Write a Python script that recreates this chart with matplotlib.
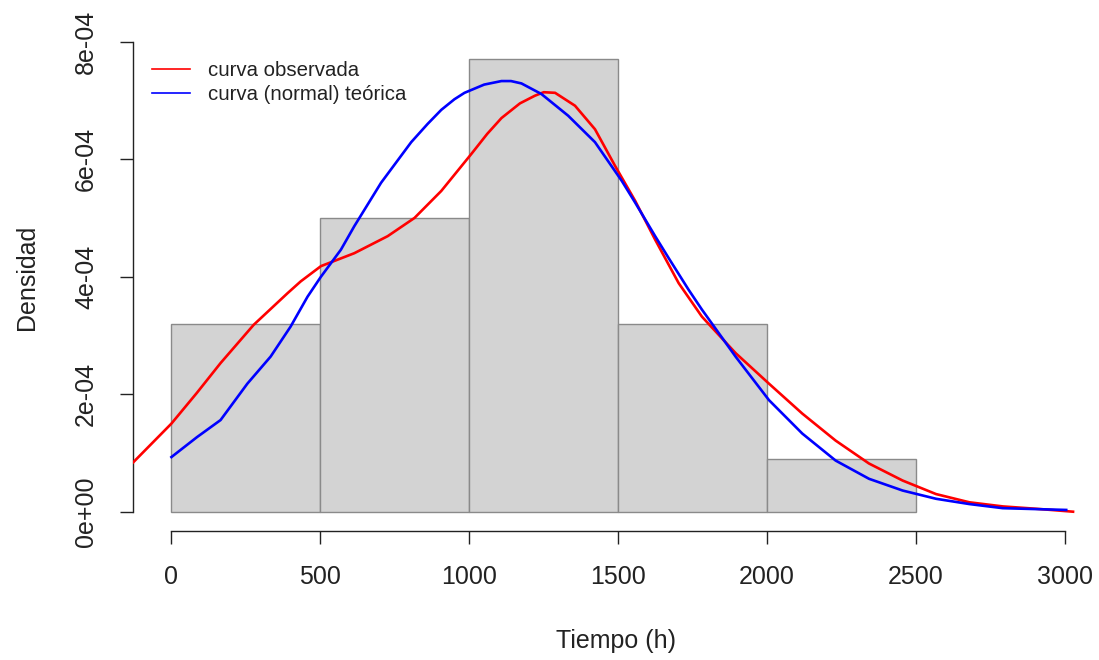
import matplotlib
matplotlib.use("Agg")
import matplotlib.pyplot as plt
from matplotlib.lines import Line2D

plt.rcParams['font.family'] = ['Liberation Sans', 'DejaVu Sans']

# Histogram (density scale)
bin_edges = [0, 500, 1000, 1500, 2000, 2500]
densities = [3.2e-4, 5.0e-4, 7.7e-4, 3.2e-4, 0.9e-4]

# Observed density curve (red), y in units of 1e-4
red_x = [-140, 0, 85, 165, 276, 390, 434, 502, 614, 726, 816, 906, 1007, 1060,
         1108, 1170, 1220, 1250, 1288, 1355, 1422, 1489, 1557, 1624, 1703, 1781,
         1894, 2006, 2118, 2230, 2342, 2455, 2567, 2679, 2791, 2903, 3027]
red_y = [0.78, 1.50, 2.02, 2.53, 3.18, 3.72, 3.92, 4.18, 4.40, 4.69, 5.00, 5.46,
         6.09, 6.43, 6.70, 6.95, 7.08, 7.14, 7.13, 6.91, 6.51, 5.89, 5.29, 4.63,
         3.89, 3.32, 2.70, 2.18, 1.67, 1.21, 0.82, 0.53, 0.30, 0.16, 0.09, 0.05,
         0.0]

# Theoretical (normal) curve (blue), y in units of 1e-4
blue_x = [0, 86, 165, 255, 333, 400, 457, 502, 569, 614, 704, 805, 860, 906, 950,
          984, 1050, 1108, 1140, 1175, 1242, 1332, 1422, 1512, 1557, 1624, 1669,
          1736, 1781, 1894, 2006, 2118, 2230, 2342, 2455, 2567, 2679, 2791, 3004]
blue_y = [0.93, 1.27, 1.56, 2.18, 2.64, 3.15, 3.66, 4.00, 4.46, 4.86, 5.60, 6.29,
          6.60, 6.84, 7.02, 7.13, 7.27, 7.33, 7.33, 7.29, 7.11, 6.74, 6.29, 5.63,
          5.26, 4.69, 4.32, 3.78, 3.44, 2.64, 1.90, 1.33, 0.87, 0.56, 0.36, 0.22,
          0.13, 0.06, 0.03]

x_ticks = [0, 500, 1000, 1500, 2000, 2500, 3000]
y_ticks = [0, 2e-4, 4e-4, 6e-4, 8e-4]
y_tick_labels = ["0e+00", "2e-04", "4e-04", "6e-04", "8e-04"]
legend_labels = ["curva observada", "curva (normal) teórica"]

W, H = 1099, 660
fig = plt.figure(figsize=(W / 100, H / 100), dpi=100)
ax_l, ax_r, ax_b, ax_t = 133.3, 1099, 530.5, 22.9
ax = fig.add_axes([ax_l / W, 1 - ax_b / H, (ax_r - ax_l) / W, (ax_b - ax_t) / H])

widths = [bin_edges[i + 1] - bin_edges[i] for i in range(len(densities))]
ax.bar(bin_edges[:-1], densities, width=widths, align='edge',
       color='#D3D3D3', edgecolor='#8A8A8A', linewidth=1.0, zorder=1)

ax.plot(red_x, [v * 1e-4 for v in red_y], color='#FF0000', lw=1.9, zorder=3)
ax.plot(blue_x, [v * 1e-4 for v in blue_y], color='#0000FF', lw=1.9, zorder=3)

ax.set_xlim(-128, (ax_r - 171) / 0.298)
ax.set_ylim(-0.32e-4, 8.32e-4)

for s in ['top', 'right']:
    ax.spines[s].set_visible(False)
ax.spines['left'].set_bounds(0, 8e-4)
ax.spines['bottom'].set_bounds(0, 3000)
for s in ['left', 'bottom']:
    ax.spines[s].set_color('#222222')
    ax.spines[s].set_linewidth(1.0)

ax.set_xticks(x_ticks)
ax.set_xticklabels([str(t) for t in x_ticks])
ax.set_yticks(y_ticks)
ax.set_yticklabels(y_tick_labels, rotation=90, va='center')
ax.tick_params(axis='both', direction='out', length=9.5, width=1.0,
               color='#222222', labelsize=18, labelcolor='#222222')
ax.tick_params(axis='x', pad=15.5)
ax.tick_params(axis='y', pad=16)

fig.text(616 / W, 1 - 641 / H, "Tiempo (h)", ha='center', va='center',
         fontsize=18, color='#222222')
fig.text(27 / W, 1 - 277 / H, "Densidad", ha='center', va='center',
         rotation=90, fontsize=18, color='#222222')

handles = [Line2D([0], [0], color='#FF0000', lw=1.2),
           Line2D([0], [0], color='#0000FF', lw=1.2)]
ax.legend(handles, legend_labels, loc='upper left',
          bbox_to_anchor=(152 / W, 1 - 61 / H), bbox_transform=fig.transFigure,
          frameon=False, fontsize=14.7, handlelength=1.86, handletextpad=0.88,
          borderpad=0, borderaxespad=0, labelspacing=0.25, labelcolor='#222222')

fig.savefig("out.png", dpi=100)
